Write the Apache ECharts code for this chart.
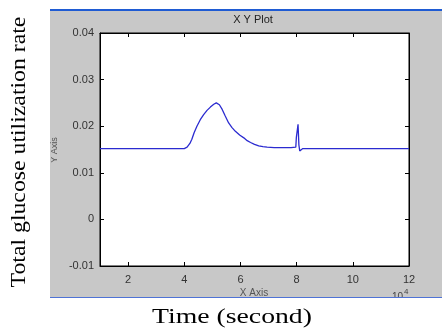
<!DOCTYPE html>
<html><head><meta charset="utf-8">
<script src="https://cdn.jsdelivr.net/npm/echarts@6/dist/echarts.min.js"></script>
<style>html,body{margin:0;padding:0;background:#fff}#c{width:442px;height:328px}</style>
</head><body><div id="c"></div><script>
// Time in units of 10^4 seconds
const timeX = [1, 4.0, 4.1, 4.2, 4.27, 4.35, 4.45, 4.57, 4.69, 4.81, 4.93, 5.05, 5.14, 5.25, 5.35, 5.45, 5.58, 5.7, 5.82, 5.97, 6.12, 6.24, 6.36, 6.5, 6.65, 6.8, 6.95, 7.2, 7.5, 7.8, 7.97, 7.99, 8.02, 8.05, 8.08, 8.11, 8.15, 8.22, 9, 10, 11, 12];
const glucoseRate = [0.0152, 0.0152, 0.0155, 0.0163, 0.0172, 0.0186, 0.0200, 0.0214, 0.0225, 0.0234, 0.0241, 0.0247, 0.0250, 0.0246, 0.0236, 0.0223, 0.0207, 0.0197, 0.0189, 0.0181, 0.0175, 0.0169, 0.0165, 0.0161, 0.0158, 0.0156, 0.0155, 0.0154, 0.0154, 0.0154, 0.0155, 0.0176, 0.0178, 0.0204, 0.0160, 0.0147, 0.0150, 0.0152, 0.0152, 0.0152, 0.0152, 0.0152];
const xTicks = [2, 4, 6, 8, 10, 12];
const yTickLabels = ['-0.01', '0', '0.01', '0.02', '0.03', '0.04'];

const chart = echarts.init(document.getElementById('c'), null, {renderer: 'canvas'});
const lab = {color: '#333', fontSize: 11, fontFamily: 'Liberation Sans'};
const axLine = {show: true, onZero: false, lineStyle: {color: '#000', width: 1}};
const yFmt = v => yTickLabels[Math.round(v * 100) + 1];
chart.setOption({
  animation: false,
  backgroundColor: '#c8c8c8',
  grid: {left: 100, right: 33, top: 33, bottom: 62, show: true, backgroundColor: '#fff', borderColor: '#000', borderWidth: 1},
  xAxis: [
    {type: 'value', position: 'bottom', min: 1, max: 12, axisLine: axLine,
     axisTick: {show: true, inside: true, length: 4, customValues: xTicks, lineStyle: {color: '#000'}},
     axisLabel: Object.assign({customValues: xTicks, margin: 8}, lab), splitLine: {show: false}},
    {type: 'value', position: 'top', min: 1, max: 12, axisLine: axLine,
     axisTick: {show: true, inside: true, length: 4, customValues: xTicks, lineStyle: {color: '#000'}},
     axisLabel: {show: false}, splitLine: {show: false}}
  ],
  yAxis: [
    {type: 'value', position: 'left', min: -0.01, max: 0.04, interval: 0.01, axisLine: axLine,
     axisTick: {show: true, inside: true, length: 4, lineStyle: {color: '#000'}},
     axisLabel: Object.assign({formatter: yFmt, margin: 6}, lab), splitLine: {show: false}},
    {type: 'value', position: 'right', min: -0.01, max: 0.04, interval: 0.01, axisLine: axLine,
     axisTick: {show: true, inside: true, length: 4, lineStyle: {color: '#000'}},
     axisLabel: {show: false}, splitLine: {show: false}}
  ],
  series: [{
    type: 'line', xAxisIndex: 0, yAxisIndex: 0, showSymbol: false, smooth: false,
    lineStyle: {color: '#2b2bd0', width: 1.3},
    data: timeX.map((t, i) => [t, glucoseRate[i]])
  }],
  graphic: [
    {type: 'text', z: 1, style: {text: 'X Y Plot', x: 253, y: 20, align: 'center', verticalAlign: 'middle', fill: '#222', font: '11px "Liberation Sans"'}},
    {type: 'text', z: 1, style: {text: 'X Axis', x: 254, y: 293, align: 'center', verticalAlign: 'middle', fill: '#555', font: '10px "Liberation Sans"'}},
    {type: 'text', z: 1, style: {text: '10', x: 392, y: 297, align: 'left', verticalAlign: 'middle', fill: '#444', font: '10px "Liberation Sans"'}},
    {type: 'text', z: 1, style: {text: '4', x: 404, y: 292, align: 'left', verticalAlign: 'middle', fill: '#444', font: '8px "Liberation Sans"'}},
    {type: 'text', z: 1, x: 55, y: 150, rotation: Math.PI / 2, style: {text: 'Y Axis', align: 'center', verticalAlign: 'middle', fill: '#555', font: '9px "Liberation Sans"'}},
    {type: 'rect', z: 2, shape: {x: 0, y: 0, width: 50, height: 328}, style: {fill: '#fff'}},
    {type: 'rect', z: 2, shape: {x: 0, y: 0, width: 442, height: 9}, style: {fill: '#fff'}},
    {type: 'rect', z: 2, shape: {x: 0, y: 298, width: 442, height: 30}, style: {fill: '#fff'}},
    {type: 'rect', z: 3, shape: {x: 50, y: 9, width: 392, height: 2}, style: {fill: '#1f5bd3'}},
    {type: 'rect', z: 3, shape: {x: 50, y: 297, width: 392, height: 1}, style: {fill: '#4f73d6'}},
    {type: 'text', z: 4, x: 19, y: 152, rotation: Math.PI / 2, scaleX: 1.08, style: {text: 'Total glucose utilization rate', align: 'center', verticalAlign: 'middle', fill: '#000', font: '22px "Liberation Serif"'}},
    {type: 'text', z: 4, x: 232, y: 317, scaleX: 1.26, style: {text: 'Time (second)', align: 'center', verticalAlign: 'middle', fill: '#000', font: '22px "Liberation Serif"'}}
  ]
});
</script></body></html>
